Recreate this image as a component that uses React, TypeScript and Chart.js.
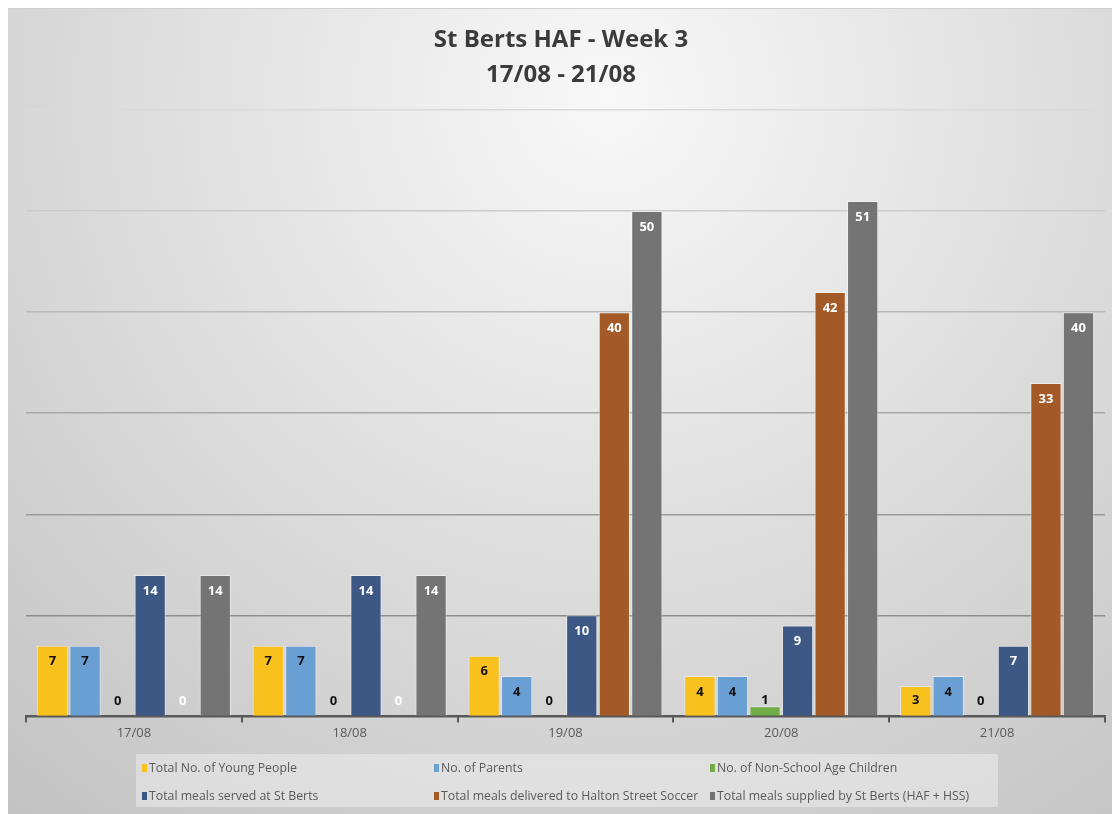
import React, { useEffect, useRef } from "react";
import { Chart, registerables } from "chart.js";

Chart.register(...registerables);

const titleLines = ["St Berts HAF - Week 3", "17/08 - 21/08"];
const categories = ["17/08", "18/08", "19/08", "20/08", "21/08"];
const youngPeople = [7, 7, 6, 4, 3];
const parents = [7, 7, 4, 4, 4];
const nonSchoolChildren = [0, 0, 0, 1, 0];
const servedAtStBerts = [14, 14, 10, 9, 7];
const deliveredHSS = [0, 0, 40, 42, 33];
const suppliedTotal = [14, 14, 50, 51, 40];
const yTicks = [0, 10, 20, 30, 40, 50, 60];

const seriesNames = [
  "Total No. of Young People",
  "No. of Parents",
  "No. of Non-School Age Children",
  "Total meals served at St Berts",
  "Total meals delivered to Halton Street Soccer",
  "Total meals supplied by St Berts (HAF + HSS)",
];
const seriesData = [youngPeople, parents, nonSchoolChildren, servedAtStBerts, deliveredHSS, suppliedTotal];
const seriesColors = ["#F8C11E", "#6A9FD4", "#70AD47", "#3E5886", "#A45A27", "#747474"];
const labelColors = ["#111111", "#111111", "#111111", "#FFFFFF", "#FFFFFF", "#FFFFFF"];
const gridColors: Record<number, string> = {
  0: "#595959",
  10: "#8e8e8e",
  20: "#9a9a9a",
  30: "#a8a8a8",
  40: "#bababa",
  50: "#cbcbcb",
  60: "#dadada",
};

const FONT = "'Open Sans', 'DejaVu Sans', sans-serif";

const backgroundPlugin = {
  id: "bgGradient",
  beforeDraw(chart: any) {
    const { ctx, width, height } = chart;
    ctx.save();
    const g = ctx.createRadialGradient(600, 90, 0, 600, 90, 980);
    g.addColorStop(0, "#f8f8f8");
    g.addColorStop(1, "#c0c0c0");
    ctx.fillStyle = g;
    ctx.fillRect(0, 0, width, height);
    ctx.strokeStyle = "#d0d0d0";
    ctx.lineWidth = 1;
    ctx.beginPath();
    ctx.moveTo(0, 0.5);
    ctx.lineTo(width, 0.5);
    ctx.stroke();
    // title
    ctx.fillStyle = "#3b3b3b";
    ctx.font = `bold 24px ${FONT}`;
    ctx.textAlign = "center";
    ctx.textBaseline = "middle";
    ctx.fillText(titleLines[0], 553, 32);
    ctx.fillText(titleLines[1], 553, 67);
    ctx.restore();
  },
};

const labelsPlugin = {
  id: "barLabels",
  afterDatasetsDraw(chart: any) {
    const { ctx } = chart;
    ctx.save();
    ctx.font = `bold 13px ${FONT}`;
    ctx.textAlign = "center";
    ctx.textBaseline = "middle";
    chart.data.datasets.forEach((ds: any, di: number) => {
      const meta = chart.getDatasetMeta(di);
      meta.data.forEach((el: any, i: number) => {
        const v = ds.data[i];
        const y = Math.min(el.y + 16, el.base - 15);
        ctx.fillStyle = labelColors[di];
        ctx.fillText(String(v), el.x, y);
      });
    });
    ctx.restore();
  },
};

const legendPlugin = {
  id: "customLegend",
  afterDraw(chart: any) {
    const { ctx } = chart;
    ctx.save();
    // box (canvas coords = page - 8)
    ctx.fillStyle = "rgba(240,240,240,0.5)";
    ctx.fillRect(128, 746, 862, 53);
    const cols = [134, 426, 702];
    const rows = [760, 788];
    ctx.font = `12.3px ${FONT}`;
    ctx.textBaseline = "middle";
    ctx.textAlign = "left";
    seriesNames.forEach((name, i) => {
      const cx = cols[i % 3];
      const cy = rows[Math.floor(i / 3)];
      ctx.fillStyle = seriesColors[i];
      ctx.fillRect(cx, cy - 4, 5, 8);
      ctx.fillStyle = "#595959";
      ctx.fillText(name, cx + 7, cy);
    });
    ctx.restore();
  },
};

export default function App() {
  const ref = useRef<HTMLCanvasElement | null>(null);
  useEffect(() => {
    if (!ref.current) return;
    const chart = new Chart(ref.current, {
      type: "bar",
      data: {
        labels: categories,
        datasets: seriesNames.map((name, i) => ({
          label: name,
          data: seriesData[i],
          backgroundColor: seriesColors[i],
          borderColor: "rgba(255,255,255,0.45)",
          borderWidth: (c: any) => (c.raw === 0 ? 0 : 1),
          borderSkipped: "bottom",
          barPercentage: 0.96,
          categoryPercentage: 0.905,
        })),
      },
      options: {
        animation: false,
        responsive: false,
        layout: { padding: { left: 18, right: 15, top: 102, bottom: 70 } },
        plugins: {
          legend: { display: false },
          title: { display: false },
          tooltip: { enabled: false },
        },
        scales: {
          x: {
            grid: {
              drawOnChartArea: false,
              drawTicks: true,
              tickLength: 6,
              color: "#595959",
              lineWidth: 2,
              offset: true,
            },
            border: { display: true, color: "#595959", width: 2 },
            ticks: { color: "#595959", font: { family: FONT, size: 13 }, padding: 3 },
          },
          y: {
            min: 0,
            max: 60,
            afterBuildTicks: (axis: any) => {
              axis.ticks = yTicks.map((v) => ({ value: v }));
            },
            ticks: { display: false },
            border: { display: false },
            grid: {
              drawTicks: false,
              lineWidth: 1.5,
              color: (c: any) => gridColors[c.tick?.value] ?? "#bbbbbb",
            },
          },
        },
      },
      plugins: [backgroundPlugin, labelsPlugin, legendPlugin],
    } as any);
    return () => chart.destroy();
  }, []);
  return (
    <div style={{ width: 1112, height: 806 }}>
      <canvas ref={ref} width={1112} height={806} style={{ display: "block" }} />
    </div>
  );
}
